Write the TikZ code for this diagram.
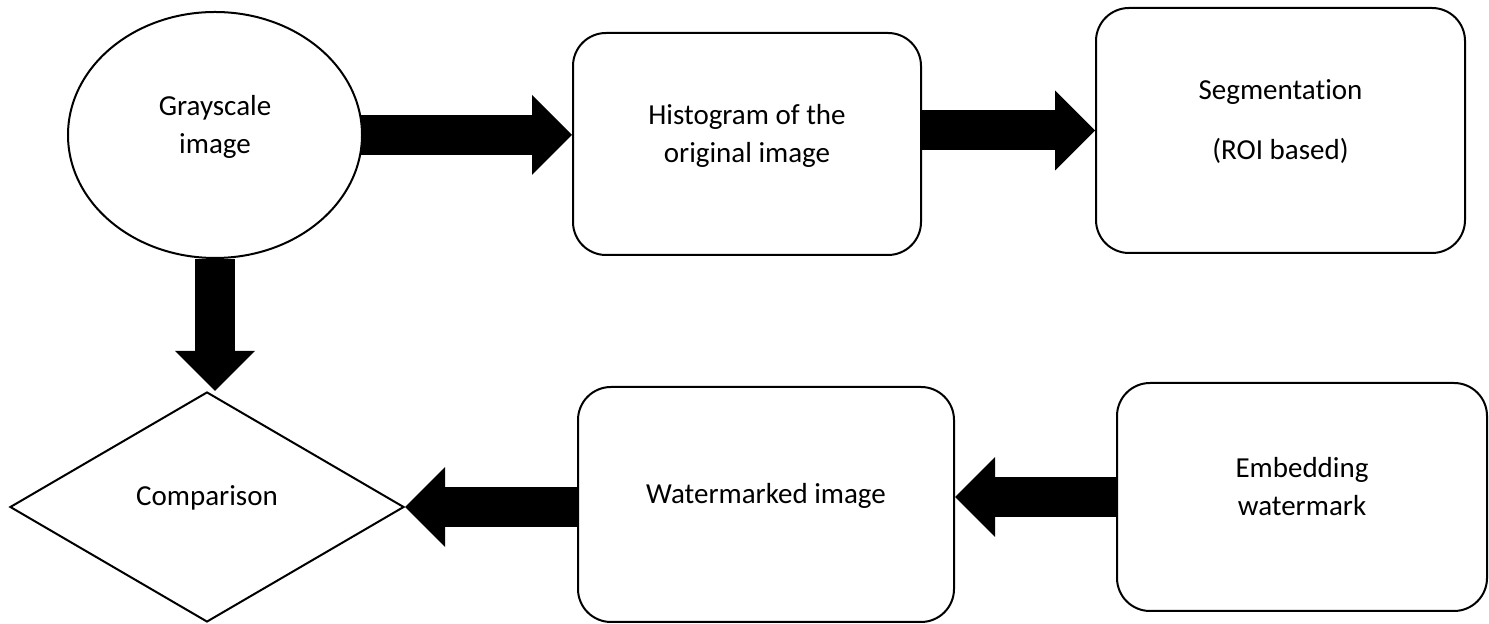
\documentclass[tikz,border=0pt]{standalone}
\usepackage{fontspec}
\setmainfont{Carlito}[Ligatures=NoCommon]
\usepackage{tikz}
\usetikzlibrary{
    arrows.meta,
    positioning,
    calc,
    shapes.geometric
}

\begin{document}
\begin{tikzpicture}[x=1bp,y=1bp,
        every node/.style={font=\fontsize{29bp}{38bp}\selectfont,align=center,text depth=22bp},
        box/.style={draw,line width=2bp,rounded corners=33bp},
        oval/.style={draw,ellipse,line width=2bp},
        decision/.style={draw,diamond,line width=2bp,inner sep=0pt},
        fatarrow/.style={line width=40bp,-{Triangle[length=40bp,width=80bp,line width=0pt]}}]
            \useasboundingbox (0,0) rectangle (1489,624);
            % top row
            \node[oval,minimum width=294bp,minimum height=246bp] (gray) at (215,489) {Grayscale\\image};
            \node[box,minimum width=348bp,minimum height=222bp] (hist) at (747,480) {Histogram of the\\original image};
            \node[box,minimum width=369bp,minimum height=245bp] (seg) at (1280.5,493.5) {Segmentation\\[22bp](ROI based)};
            % bottom row
            \node[decision,minimum width=394bp,minimum height=230bp] (cmp) at (207,117) {Comparison};
            \node[box,minimum width=376bp,minimum height=235bp] (wm) at (766,119.5) {Watermarked image};
            \node[box,minimum width=370bp,minimum height=228bp] (emb) at (1302,127) {Embedding\\watermark};
            % block arrows
            \draw[fatarrow] ([xshift=-2bp]gray.east) -- (gray.east -| hist.west);
            \draw[fatarrow] (seg.west -| hist.east) -- (seg.west);
            \draw[fatarrow] (gray.south) -- (gray.south |- cmp.north);
            \draw[fatarrow] (emb.west) -- (emb.west -| wm.east);
            \draw[fatarrow] (wm.west |- cmp.east) -- (cmp.east);
        \end{tikzpicture}
\end{document}
